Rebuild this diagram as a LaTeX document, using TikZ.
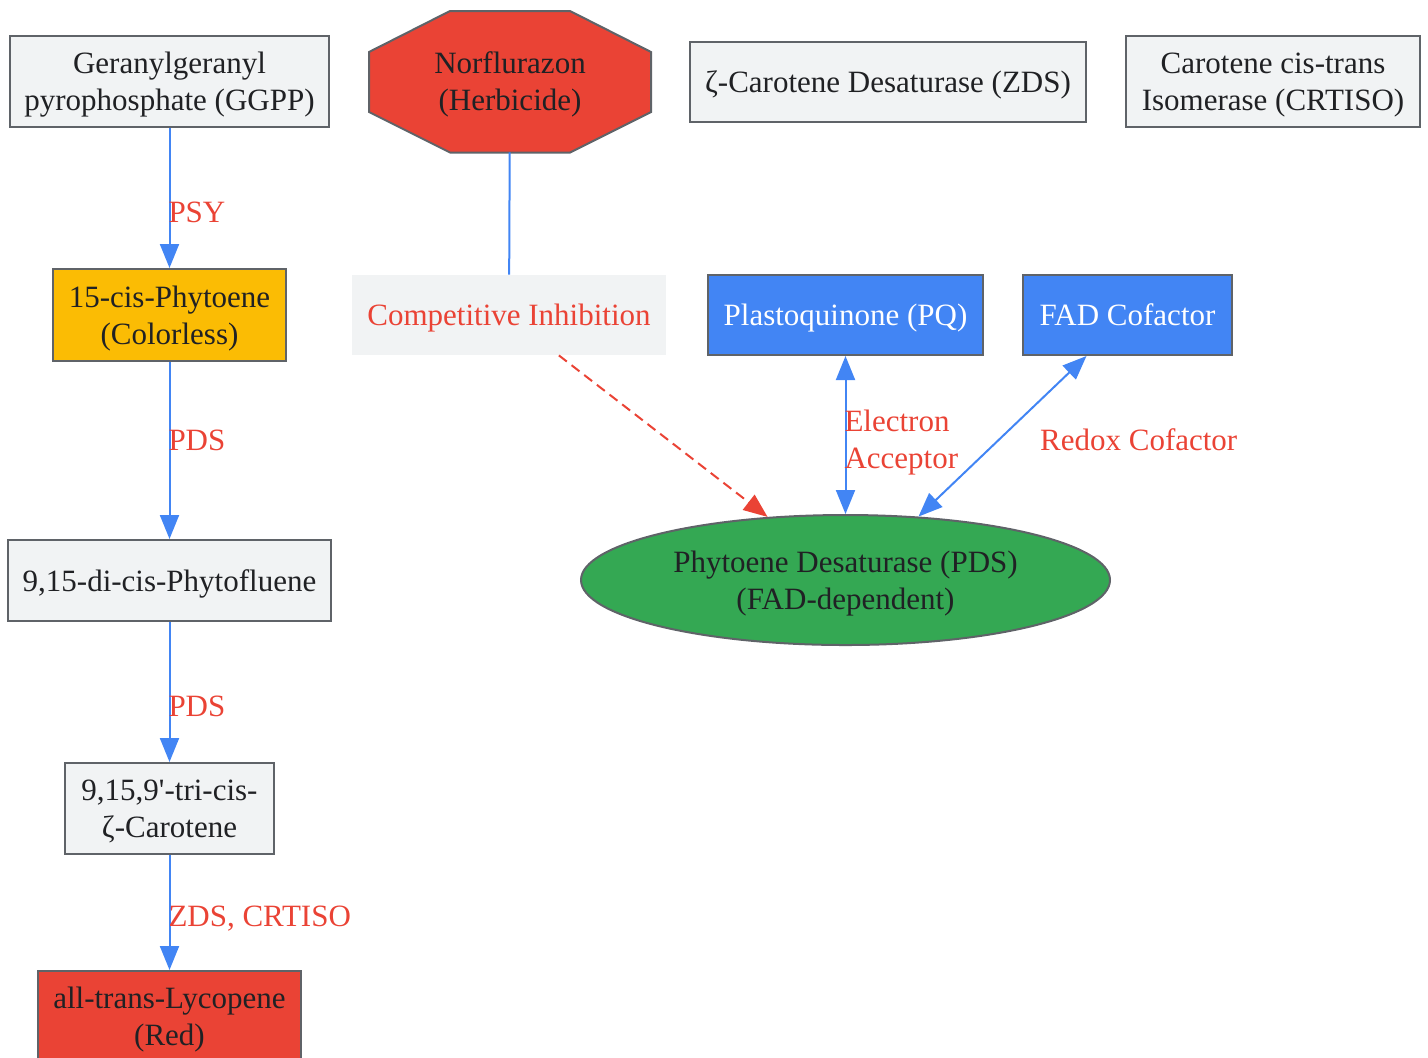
\documentclass[tikz,border=0pt]{standalone}
\usepackage{fontspec}
\setmainfont{Liberation Serif}
\usetikzlibrary{arrows.meta,shapes.geometric}
\definecolor{boxgrey}{HTML}{F1F3F4}
\definecolor{edgegrey}{HTML}{5F6368}
\definecolor{inkdark}{HTML}{202124}
\definecolor{gblue}{HTML}{4285F4}
\definecolor{gred}{HTML}{EA4335}
\definecolor{gorange}{HTML}{FBBC04}
\definecolor{ggreen}{HTML}{34A853}
\begin{document}
\begin{tikzpicture}[x=0.5pt,y=-0.5pt,font=\fontsize{15.5}{18.5}\selectfont,>={Triangle[length=12pt,width=9.5pt]}]
    \tikzstyle{lowered}=[text depth=-3pt]
    \tikzstyle{stage}=[rectangle,draw=edgegrey,line width=1pt,fill=boxgrey,text=inkdark,align=center,inner sep=0pt,lowered]
    \tikzstyle{cofactor}=[stage,fill=gblue,text=white]
    \tikzstyle{flow}=[draw=gblue,line width=1pt]
    \tikzstyle{tag}=[text=gred,anchor=west,inner sep=0pt,align=left,xshift=-1pt]
    \useasboundingbox (0,0) rectangle (1428,1057);
    % pathway column
    \node[stage,minimum width=159.5pt,minimum height=45.5pt] (ggpp) at (169.5,81.5) {Geranylgeranyl\\pyrophosphate (GGPP)};
    \node[stage,fill=gorange,minimum width=116.5pt,minimum height=46pt] (phyt) at (169.5,315) {15-cis-Phytoene\\(Colorless)};
    \node[stage,minimum width=161.5pt,minimum height=40.5pt] (pfl) at (169.5,580.5) {9,15-di-cis-Phytofluene};
    \node[stage,minimum width=104.5pt,minimum height=45.5pt] (zcar) at (169.5,808.5) {9,15,9\textquotesingle-tri-cis-\\ζ-Carotene};
    \node[stage,fill=gred,minimum width=131.5pt,minimum height=45.5pt] (lyco) at (169.5,1016.5) {all-trans-Lycopene\\(Red)};
    % herbicide
    \path[draw=edgegrey,fill=gred,line width=1pt] (510,81.5) ++(-60,-70.5) -- ++(120,0) -- ++(81,41) -- ++(0,60) -- ++(-81,40.5) -- ++(-120,0) -- ++(-81,-40.5) -- ++(0,-60) -- cycle;
    \node[lowered,minimum width=141pt,minimum height=70.5pt,align=center,text=inkdark,inner sep=0pt] (herb) at (510,81.5) {Norflurazon\\(Herbicide)};
    \node[lowered,fill=boxgrey,text=gred,minimum width=157pt,minimum height=40pt,inner sep=0pt] (inhib) at (509,315) {Competitive Inhibition};
    % enzymes
    \node[stage,minimum width=198pt,minimum height=40pt] (zds) at (888,82) {ζ-Carotene Desaturase (ZDS)};
    \node[stage,minimum width=147pt,minimum height=45.5pt] (crtiso) at (1273,81.5) {Carotene cis-trans\\Isomerase (CRTISO)};
    \node[cofactor,minimum width=137.5pt,minimum height=40pt] (pq) at (845.5,315) {Plastoquinone (PQ)};
    \node[cofactor,minimum width=104.5pt,minimum height=40pt] (fad) at (1127.5,315) {FAD Cofactor};
    \node[stage,ellipse,fill=ggreen,minimum width=264.5pt,minimum height=65pt] (pds) at (845.5,580) {Phytoene Desaturase (PDS)\\(FAD-dependent)};
    % connectors
    \draw[flow,->] (ggpp) -- node[tag,pos=0.6] {PSY} (phyt);
    \draw[flow,->] (phyt) -- node[tag,pos=0.44] {PDS} (pfl);
    \draw[flow,->] (pfl) -- node[tag,pos=0.6] {PDS} (zcar);
    \draw[flow,->] (zcar) -- node[tag,pos=0.55] {ZDS, CRTISO} (lyco);
    \draw[flow] (herb) -- (inhib);
    \draw[flow,draw=gred,dash pattern=on 5pt off 3pt,->] (inhib.-39) -- (pds.141);
    \draw[flow,<->] (pq) -- node[tag,pos=0.55] {Electron\\Acceptor} (pds);
    \draw[flow,<->] (fad.225) -- node[tag,pos=0.52,xshift=21pt] {Redox Cofactor} (pds.41);
\end{tikzpicture}
\end{document}
